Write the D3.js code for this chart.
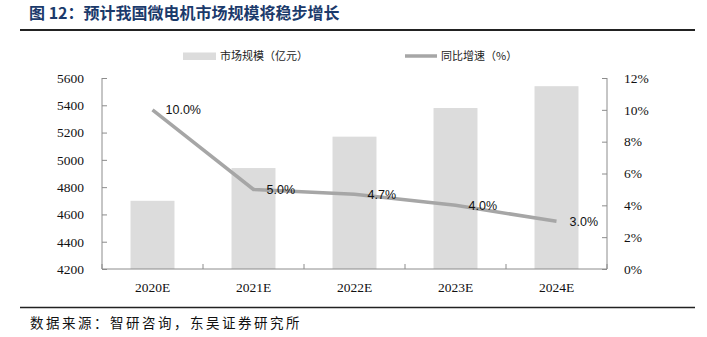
<!DOCTYPE html>
<html>
<head>
<meta charset="utf-8">
<script src="https://cdn.jsdelivr.net/npm/d3@7/dist/d3.min.js"></script>
<style>
html,body{margin:0;padding:0;background:#fff;}
svg{display:block;}
</style>
</head>
<body>
<svg id="chart" width="707" height="337"></svg>
<script>
const categories = ["2020E","2021E","2022E","2023E","2024E"];
const marketSize = [4700,4940,5170,5380,5540];
const growth = [0.10,0.05,0.047,0.04,0.03];
const leftTicks = [4200,4400,4600,4800,5000,5200,5400,5600];
const rightTicks = [0,0.02,0.04,0.06,0.08,0.10,0.12];
const titleText = "图 12：预计我国微电机市场规模将稳步增长";
const sourceText = "数据来源：智研咨询，东吴证券研究所";
const legendBar = "市场规模（亿元）";
const legendLine = "同比增速（%）";

const svg = d3.select("#chart");
const L = 102, R = 607, T = 78, B = 269;
const serif = "'Liberation Serif','Times New Roman',serif";
const sans = "'Liberation Sans',Arial,sans-serif";
const cjk = "'Noto Sans CJK SC','Noto Sans',sans-serif";

// Title
svg.append("text").attr("x", 29).attr("y", 19)
  .attr("font-family", cjk).attr("font-weight", "bold").attr("font-size", 16)
  .attr("fill", "#1b3a6b").text(titleText);
svg.append("line").attr("x1", 20).attr("x2", 695).attr("y1", 30).attr("y2", 30)
  .attr("stroke", "#222").attr("stroke-width", 2);

const x = d3.scaleBand().domain(categories).range([L, R]).paddingInner(0.565).paddingOuter(0.2825);
const yL = d3.scaleLinear().domain([4200, 5600]).range([B, T]);
const yR = d3.scaleLinear().domain([0, 0.12]).range([B, T]);

// Bars
svg.append("g").selectAll("rect").data(categories).join("rect")
  .attr("x", d => x(d)).attr("width", x.bandwidth())
  .attr("y", (d, i) => yL(marketSize[i]))
  .attr("height", (d, i) => B - yL(marketSize[i]))
  .attr("fill", "#dcdcdc");

// Axes
const axisColor = "#8c8c8c";
const gL = svg.append("g").attr("transform", `translate(${L},0)`)
  .call(d3.axisLeft(yL).tickValues(leftTicks).tickSize(-5).tickPadding(18).tickFormat(d3.format("d")));
const gR = svg.append("g").attr("transform", `translate(${R},0)`)
  .call(d3.axisRight(yR).tickValues(rightTicks).tickSize(-5).tickPadding(17).tickFormat(d3.format(".0%")));
const gB = svg.append("g").attr("transform", `translate(0,${B})`)
  .call(d3.axisBottom(x).tickSize(0).tickPadding(13));
[gL, gR, gB].forEach(g => {
  g.select(".domain").attr("stroke", axisColor);
  g.selectAll(".tick line").attr("stroke", axisColor);
  g.selectAll("text").attr("font-family", serif).attr("font-size", 13.5).attr("fill", "#111");
});
gB.select(".domain").attr("d", `M${L},0H${R}`);
gL.select(".domain").attr("d", `M0,${T}V${B}`);
gR.select(".domain").attr("d", `M0,${T}V${B}`);

// Category boundary ticks
const step = x.step();
const bounds = categories.map(c => x(c) - (step - x.bandwidth()) / 2).concat([R]);
svg.append("g").selectAll("line").data(bounds).join("line")
  .attr("x1", d => d).attr("x2", d => d).attr("y1", B).attr("y2", B - 5)
  .attr("stroke", axisColor);

// Line
const line = d3.line().x((d, i) => x(categories[i]) + x.bandwidth() / 2).y(d => yR(d));
svg.append("path").datum(growth).attr("d", line)
  .attr("fill", "none").attr("stroke", "#a6a6a6").attr("stroke-width", 3.5);

// Labels
svg.append("g").selectAll("text").data(growth).join("text")
  .attr("x", (d, i) => x(categories[i]) + x.bandwidth() / 2 + 13)
  .attr("y", d => yR(d) + 4.5)
  .attr("font-family", sans).attr("font-size", 12.5).attr("fill", "#111")
  .text(d => d3.format(".1%")(d));

// Legend
svg.append("rect").attr("x", 183).attr("y", 52.5).attr("width", 33).attr("height", 7.5).attr("fill", "#dcdcdc");
svg.append("text").attr("x", 220).attr("y", 60).attr("font-family", cjk).attr("font-size", 11).attr("fill", "#222").text(legendBar);
svg.append("line").attr("x1", 405).attr("x2", 437).attr("y1", 56).attr("y2", 56).attr("stroke", "#a6a6a6").attr("stroke-width", 3.5);
svg.append("text").attr("x", 441).attr("y", 60).attr("font-family", cjk).attr("font-size", 11).attr("fill", "#222").text(legendLine);

// Source
svg.append("line").attr("x1", 20).attr("x2", 695).attr("y1", 307.5).attr("y2", 307.5)
  .attr("stroke", "#222").attr("stroke-width", 1.5);
svg.append("text").attr("x", 30).attr("y", 328).attr("font-family", cjk).attr("font-size", 13.5)
  .attr("letter-spacing", 2.5).attr("fill", "#111").text(sourceText);
</script>
</body>
</html>
